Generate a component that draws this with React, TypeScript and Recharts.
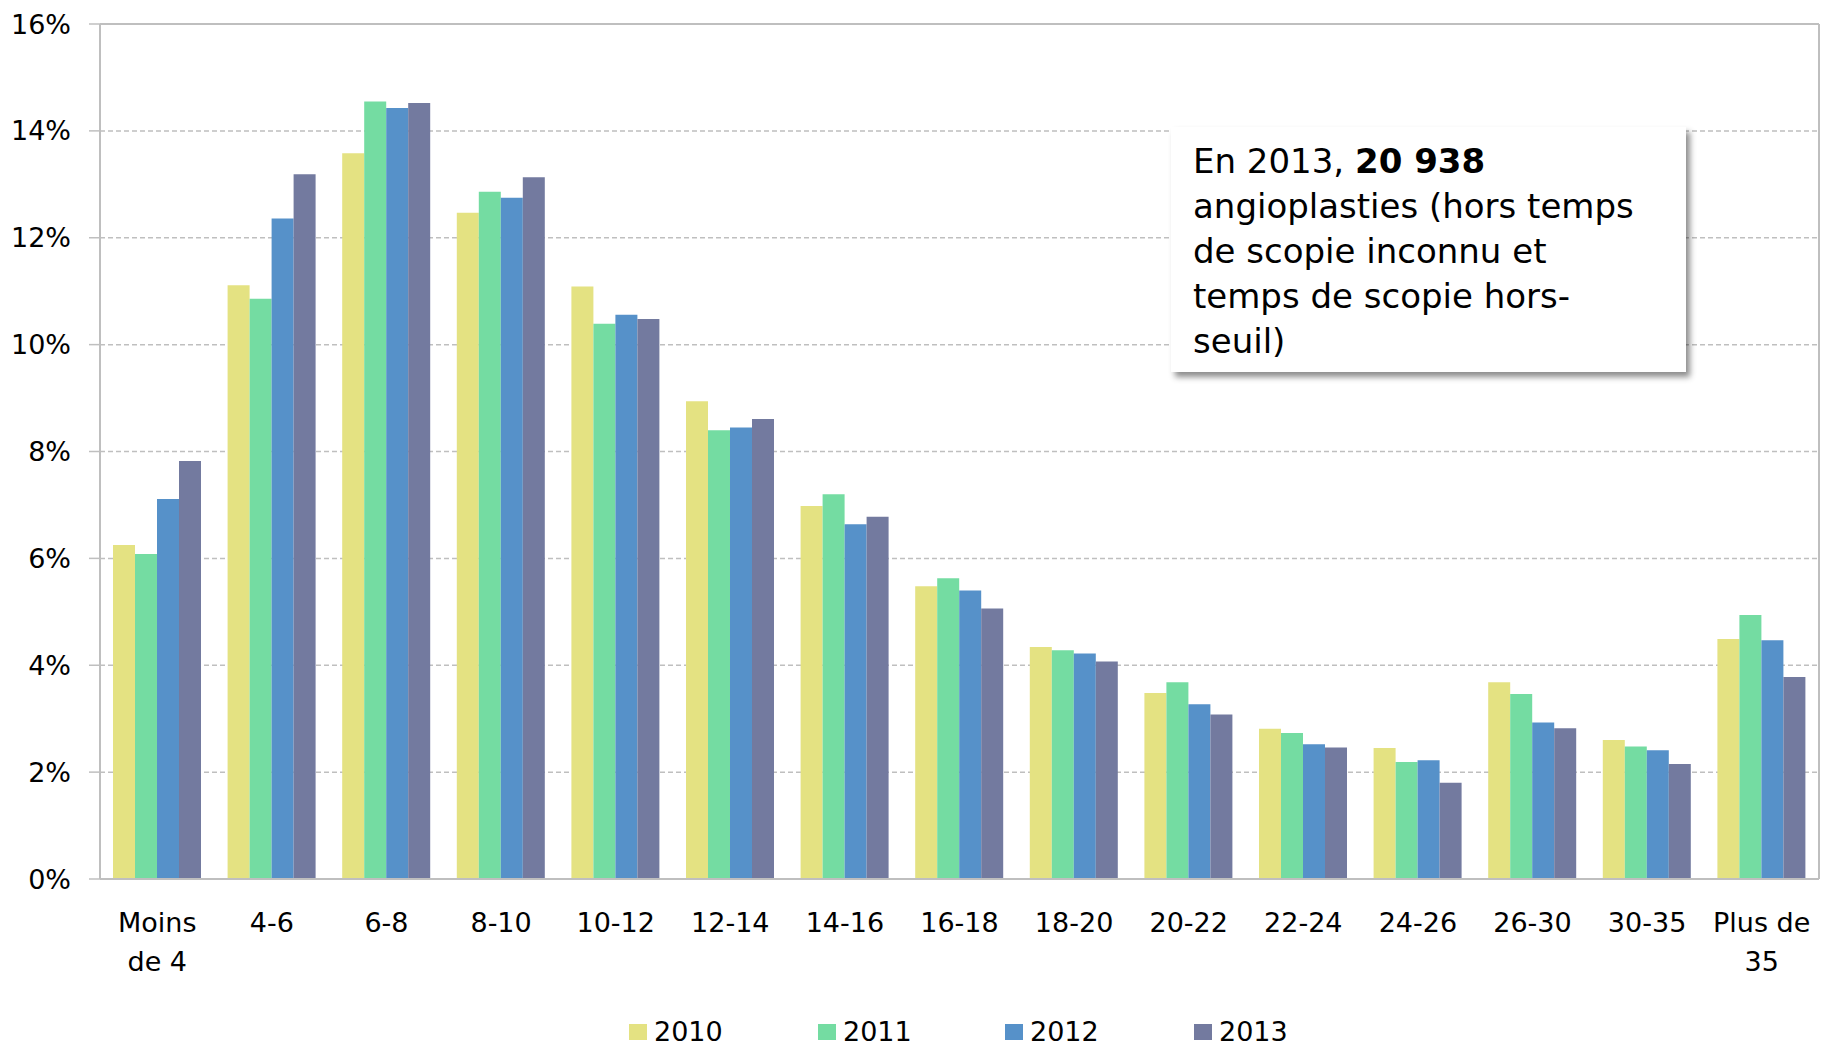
import React from 'react';
import {
  BarChart,
  Bar,
  XAxis,
  YAxis,
  CartesianGrid,
  ReferenceLine,
  Legend,
} from 'recharts';

const categories: string[] = [
  'Moins de 4', '4-6', '6-8', '8-10', '10-12', '12-14', '14-16', '16-18',
  '18-20', '20-22', '22-24', '24-26', '26-30', '30-35', 'Plus de 35',
];

const tickLines: Record<string, string[]> = {
  'Moins de 4': ['Moins', 'de 4'],
  'Plus de 35': ['Plus de', '35'],
};

const s2010: number[] = [6.25, 11.11, 13.58, 12.47, 11.09, 8.94, 6.98, 5.48, 4.34, 3.48, 2.81, 2.45, 3.68, 2.60, 4.49];
const s2011: number[] = [6.08, 10.86, 14.55, 12.86, 10.39, 8.40, 7.20, 5.63, 4.28, 3.68, 2.73, 2.19, 3.46, 2.48, 4.94];
const s2012: number[] = [7.11, 12.36, 14.43, 12.75, 10.56, 8.45, 6.64, 5.40, 4.22, 3.27, 2.52, 2.22, 2.93, 2.41, 4.47];
const s2013: number[] = [7.82, 13.19, 14.52, 13.13, 10.48, 8.61, 6.78, 5.06, 4.07, 3.08, 2.46, 1.80, 2.82, 2.15, 3.78];

const seriesNames: string[] = ['2010', '2011', '2012', '2013'];
const seriesColors: string[] = ['#E4E282', '#74DCA2', '#5691C9', '#737A9F'];
const yTicks: number[] = [0, 2, 4, 6, 8, 10, 12, 14, 16];

const data = categories.map((c, i) => ({
  cat: c,
  '2010': s2010[i],
  '2011': s2011[i],
  '2012': s2012[i],
  '2013': s2013[i],
}));

const FONT = "'DejaVu Sans', sans-serif";
const GRID = '#BFBFBF';

const XTick = (props: any) => {
  const { x, y, payload } = props;
  const lines = tickLines[payload.value] || [payload.value];
  return (
    <g>
      {lines.map((l: string, i: number) => (
        <text
          key={i}
          x={x}
          y={y + 53 + i * 38.7}
          textAnchor="middle"
          fill="#000"
          fontSize={27}
          fontFamily={FONT}
        >
          {l}
        </text>
      ))}
    </g>
  );
};

const LegendContent = () => {
  const starts = [629, 818, 1005, 1194];
  return (
    <svg width={1844} height={40} style={{ display: 'block' }}>
      {seriesNames.map((n, i) => (
        <g key={n}>
          <rect x={starts[i]} y={16} width={18} height={16} fill={seriesColors[i]} />
          <text x={starts[i] + 25} y={33} fontSize={27} fontFamily={FONT} fill="#000">
            {n}
          </text>
        </g>
      ))}
    </svg>
  );
};

export default function App() {
  return (
    <div
      style={{
        position: 'absolute',
        left: 0,
        top: 0,
        width: 1844,
        height: 1048,
        background: '#fff',
        fontFamily: FONT,
        overflow: 'hidden',
      }}
    >
      <BarChart
        width={1844}
        height={1048}
        data={data}
        margin={{ top: 24, right: 0, bottom: 0, left: 0 }}
        barCategoryGap={13}
        barGap={0}
      >
        <CartesianGrid vertical={false} stroke={GRID} strokeDasharray="5 3" strokeWidth={1.5} />
        <XAxis
          dataKey="cat"
          height={129}
          interval={0}
          tickLine={false}
          tickSize={0}
          tickMargin={0}
          axisLine={{ stroke: GRID, strokeWidth: 2 }}
          tick={<XTick />}
        />
        <YAxis
          width={100}
          domain={[0, 16]}
          ticks={yTicks}
          tickFormatter={(v: number) => `${v}%`}
          tickSize={11}
          tickMargin={18}
          tickLine={{ stroke: GRID, strokeWidth: 1.5 }}
          axisLine={{ stroke: GRID, strokeWidth: 2 }}
          tick={{ fill: '#000', fontSize: 27, fontFamily: FONT }}
          interval={0}
        />
        <YAxis
          yAxisId="r"
          orientation="right"
          width={25}
          domain={[0, 16]}
          tick={false}
          tickLine={false}
          axisLine={{ stroke: GRID, strokeWidth: 2 }}
        />
        <ReferenceLine y={16} stroke={GRID} strokeWidth={2} />
        <Legend
          content={<LegendContent />}
          wrapperStyle={{ position: 'absolute', left: 0, top: 1008, width: 1844, height: 40 }}
        />
        {seriesNames.map((n, i) => (
          <Bar key={n} dataKey={n} fill={seriesColors[i]} isAnimationActive={false} />
        ))}
      </BarChart>
      <div
        style={{
          position: 'absolute',
          left: 1171,
          top: 127,
          width: 515,
          height: 245,
          background: '#fff',
          boxShadow: '4px 5px 6px rgba(0,0,0,0.45)',
          boxSizing: 'border-box',
          paddingLeft: 22,
          paddingTop: 12,
          fontSize: 34,
          lineHeight: '45px',
          color: '#000',
          whiteSpace: 'nowrap',
          fontFamily: FONT,
        }}
      >
        En 2013, <b>20 938</b>
        <br />
        angioplasties (hors temps
        <br />
        de scopie inconnu et
        <br />
        temps de scopie hors-
        <br />
        seuil)
      </div>
    </div>
  );
}
